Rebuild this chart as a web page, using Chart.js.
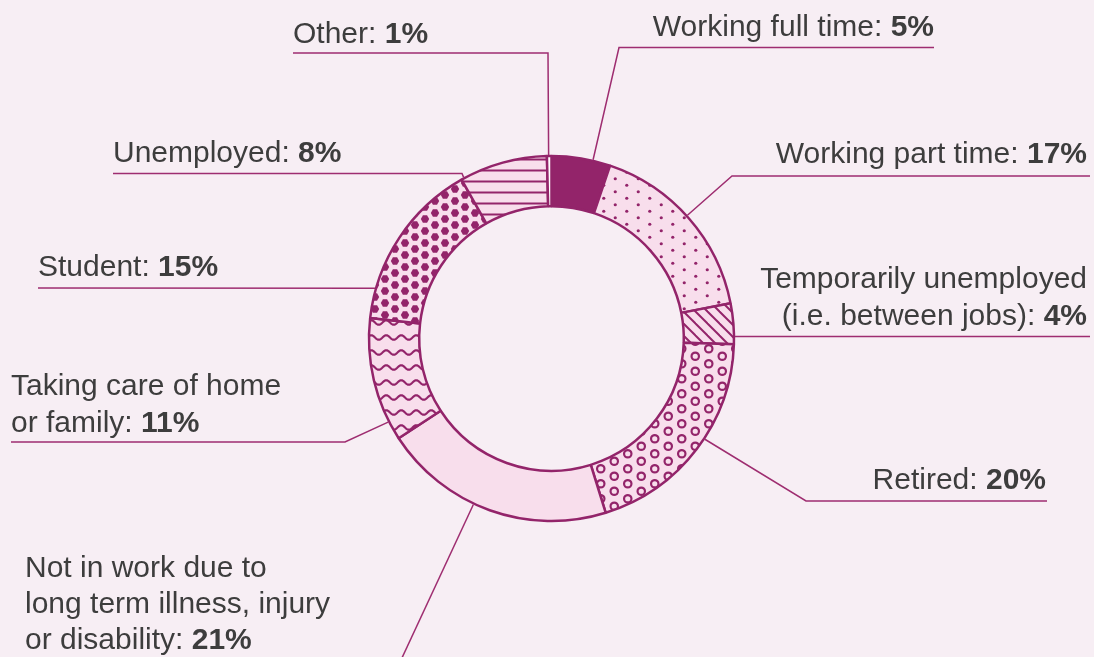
<!DOCTYPE html>
<html>
<head>
<meta charset="utf-8">
<script src="https://cdn.jsdelivr.net/npm/chart.js@4.4.1/dist/chart.umd.min.js"></script>
<style>
  html, body { margin: 0; padding: 0; background: #f7eef4; }
  #wrap { width: 1094px; height: 657px; position: relative; }
  canvas { display: block; }
</style>
</head>
<body>
<div id="wrap"><canvas id="c" width="1094" height="657"></canvas></div>
<script>
// ---- data ----
const categories = [
  'Working full time',
  'Working part time',
  'Temporarily unemployed (i.e. between jobs)',
  'Retired',
  'Not in work due to long term illness, injury or disability',
  'Taking care of home or family',
  'Student',
  'Unemployed',
  'Other'
];
// shares as drawn
const shareValues = [5.2, 16.7, 3.6, 19.7, 20.6, 11.0, 15.0, 7.8, 0.4];
// percentages printed in the labels
const labelPercents = [5, 17, 4, 20, 21, 11, 15, 8, 1];
// label text split into lines (percent is appended to the last line)
const labelLines = [
  ['Working full time: '],
  ['Working part time: '],
  ['Temporarily unemployed', '(i.e. between jobs): '],
  ['Retired: '],
  ['Not in work due to', 'long term illness, injury', 'or disability: '],
  ['Taking care of home', 'or family: '],
  ['Student: '],
  ['Unemployed: '],
  ['Other: ']
];

// ---- styling ----
const DARK = '#93246a';
const LIGHT = '#f8deec';
const TEXT = '#3d3d3d';
const LEADER = '#9e2d70';
const FONT = '"Liberation Sans", Arial, Helvetica, sans-serif';
const FS = 30;

// ---- label layout (annotation positions) ----
const labelLayout = [
  { align: 'right', x: 934,  y: 36,  lh: 37, path: [[934, 47.5], [619, 47.5]], angle: 13.1 },
  { align: 'right', x: 1087, y: 163, lh: 37, path: [[1090, 176], [732, 176]], angle: 47.8 },
  { align: 'right', x: 1087, y: 288, lh: 37, path: [[1090, 336.5]], angle: 89.4 },
  { align: 'right', x: 1046, y: 489, lh: 37, path: [[1047, 501], [806, 501]], angle: 123.3 },
  { align: 'left',  x: 25,   y: 577, lh: 36, path: [[401, 660]], angle: 205.2 },
  { align: 'left',  x: 11,   y: 395, lh: 36.5, path: [[11, 442], [345, 442]], angle: 242.9 },
  { align: 'left',  x: 38,   y: 276, lh: 37, path: [[38, 288]], angle: 285.9 },
  { align: 'left',  x: 113,  y: 162, lh: 37, path: [[113, 173.5], [462, 173.5]], angle: 331.4 },
  { align: 'left',  x: 293,  y: 43,  lh: 37, path: [[293, 53], [548, 53]], angle: 359.1 }
];

// ---- patterns ----
const helperCtx = document.createElement('canvas').getContext('2d');
function makePattern(w, h, draw, bg) {
  const c = document.createElement('canvas');
  c.width = w; c.height = h;
  const x = c.getContext('2d');
  x.fillStyle = bg || LIGHT;
  x.fillRect(0, 0, w, h);
  x.fillStyle = DARK;
  x.strokeStyle = DARK;
  draw(x, w, h);
  return helperCtx.createPattern(c, 'repeat');
}
function wrapDraw(x, w, h, fn) {
  for (let i = -1; i <= 1; i++) for (let j = -1; j <= 1; j++) fn(i * w, j * h);
}
const patDots = makePattern(23, 13, (x, w, h) => {
  [[5.75, 3.25], [17.25, 9.75]].forEach(([px, py]) => {
    x.beginPath(); x.arc(px, py, 1.6, 0, Math.PI * 2); x.fill();
  });
});
const patDiag = makePattern(12, 12, (x, w, h) => {
  x.lineWidth = 2;
  for (let k = -12; k <= 12; k += 12) {
    x.beginPath(); x.moveTo(k - 1, -1); x.lineTo(k + 13, 13); x.stroke();
  }
});
const patRings = makePattern(27, 15, (x, w, h) => {
  x.lineWidth = 2.2;
  wrapDraw(x, w, h, (ox, oy) => {
    [[6.75, 3.75], [20.25, 11.25]].forEach(([px, py]) => {
      x.beginPath(); x.arc(px + ox, py + oy, 3.7, 0, Math.PI * 2); x.stroke();
    });
  });
});
const patWave = makePattern(15, 15, (x, w, h) => {
  x.lineWidth = 2.2;
  x.beginPath();
  for (let i = -2; i <= 17; i += 0.5) {
    const yy = 7.5 + 2.2 * Math.sin((i / 15) * Math.PI * 2);
    if (i === -2) x.moveTo(i, yy); else x.lineTo(i, yy);
  }
  x.stroke();
});
const patHex = makePattern(20, 12, (x, w, h) => {
  wrapDraw(x, w, h, (ox, oy) => {
    [[5, 3], [15, 9]].forEach(([px, py]) => {
      x.beginPath();
      for (let k = 0; k < 6; k++) {
        const a = Math.PI / 3 * k;
        const xx = px + ox + 4.2 * Math.cos(a), yy = py + oy + 4.2 * Math.sin(a);
        if (k === 0) x.moveTo(xx, yy); else x.lineTo(xx, yy);
      }
      x.closePath(); x.fill();
    });
  });
});
const patHLines = makePattern(4, 11, (x, w, h) => {
  x.fillRect(0, 4.5, 4, 2);
});
const fills = [DARK, patDots, patDiag, patRings, LIGHT, patWave, patHex, patHLines, '#ffffff'];

// ---- labels plugin ----
const labelPlugin = {
  id: 'sliceLabels',
  afterDraw(chart) {
    const ctx = chart.ctx;
    const meta = chart.getDatasetMeta(0);
    const arc0 = meta.data[0];
    const cx = arc0.x, cy = arc0.y;
    const R = arc0.outerRadius + 1;
    ctx.save();
    labelLayout.forEach((L, i) => {
      // leader line
      const th = L.angle * Math.PI / 180;
      const ex = cx + R * Math.sin(th), ey = cy - R * Math.cos(th);
      ctx.strokeStyle = LEADER;
      ctx.lineWidth = 1.5;
      ctx.beginPath();
      L.path.forEach((p, k) => { if (k === 0) ctx.moveTo(p[0], p[1]); else ctx.lineTo(p[0], p[1]); });
      ctx.lineTo(ex, ey);
      ctx.stroke();
      // text
      ctx.fillStyle = TEXT;
      ctx.textBaseline = 'alphabetic';
      ctx.textAlign = 'left';
      const lines = labelLines[i];
      lines.forEach((ln, k) => {
        const y = L.y + k * L.lh;
        const last = k === lines.length - 1;
        ctx.font = `400 ${FS}px ${FONT}`;
        const wN = ctx.measureText(ln).width;
        let wB = 0, bold = '';
        if (last) {
          bold = labelPercents[i] + '%';
          ctx.font = `700 ${FS}px ${FONT}`;
          wB = ctx.measureText(bold).width;
        }
        let x0 = L.align === 'right' ? L.x - (wN + wB) : L.x;
        ctx.font = `400 ${FS}px ${FONT}`;
        ctx.fillText(ln, x0, y);
        if (last) {
          ctx.font = `700 ${FS}px ${FONT}`;
          ctx.fillText(bold, x0 + wN, y);
        }
      });
    });
    ctx.restore();
  }
};

new Chart(document.getElementById('c'), {
  type: 'doughnut',
  data: {
    labels: categories,
    datasets: [{
      data: shareValues,
      backgroundColor: fills,
      borderColor: DARK,
      borderWidth: 2.5,
      hoverOffset: 0
    }]
  },
  options: {
    responsive: false,
    animation: false,
    devicePixelRatio: 1,
    cutout: '72.5%',
    radius: 182.5,
    layout: { padding: { left: 9, top: 20, right: 0, bottom: 0 } },
    plugins: { legend: { display: false }, tooltip: { enabled: false } },
    events: []
  },
  plugins: [labelPlugin]
});
</script>
</body>
</html>
